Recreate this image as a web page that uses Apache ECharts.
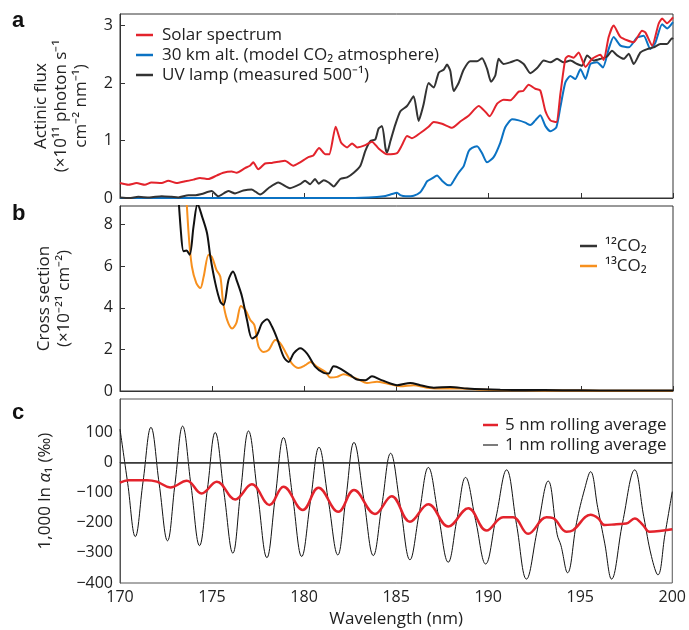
<!DOCTYPE html>
<html><head><meta charset="utf-8">
<script src="https://cdn.jsdelivr.net/npm/echarts@6/dist/echarts.min.js"></script>
<style>html,body{margin:0;padding:0;background:#fff}#c{width:689px;height:630px}</style>
</head><body><div id="c"></div>
<script>
// ---- Panel a: actinic flux (x1e11 photon s-1 cm-2 nm-1) ----
const solarX = [170,170.45,170.9,171.35,171.7,172.26,172.62,173.07,173.53,173.98,174.34,174.79,175.24,175.6,176.06,176.33,176.78,177.05,177.23,177.5,177.87,178.23,178.59,178.95,179.4,179.77,180.22,180.49,180.8,181.14,181.35,181.7,182.0,182.32,182.59,182.86,183.31,183.67,184.03,184.49,185.03,185.3,185.57,185.84,186.29,186.74,187.02,187.47,188.01,188.46,188.91,189.46,189.82,190.05,190.46,190.81,191.18,191.63,191.87,192.17,192.53,192.8,193.08,193.35,193.67,193.89,194.16,194.34,194.61,194.88,195.25,195.61,196.06,196.24,196.51,196.78,197.15,197.87,198.32,198.5,198.87,199.22,199.41,199.68,200];
const solarY = [0.26,0.23,0.26,0.23,0.27,0.26,0.30,0.26,0.29,0.32,0.35,0.33,0.39,0.44,0.46,0.44,0.52,0.56,0.62,0.50,0.60,0.61,0.63,0.65,0.56,0.62,0.71,0.74,0.87,0.76,0.76,1.24,0.96,0.88,0.95,0.88,0.92,0.98,0.86,0.76,0.78,0.92,1.08,1.04,1.13,1.24,1.32,1.29,1.22,1.33,1.43,1.60,1.50,1.42,1.64,1.71,1.70,1.85,1.86,1.97,1.90,1.87,1.51,1.35,1.32,1.81,2.42,2.47,2.44,2.53,2.28,2.42,2.49,2.40,2.80,3.00,2.80,2.71,2.91,2.88,2.65,3.03,3.12,3.04,3.14];
const alt30X = [170,175,180,182,183.5,184.3,184.67,185.03,185.2,185.5,185.93,186.29,186.5,186.66,186.93,187.2,187.47,187.74,187.92,188.1,188.37,188.64,188.91,189.1,189.37,189.64,189.91,190.27,190.63,190.9,191.27,191.63,191.99,192.26,192.53,192.8,193.08,193.35,193.67,193.89,194.16,194.43,194.7,194.98,195.25,195.52,195.88,196.2,196.51,196.78,197.15,197.6,198.05,198.41,198.77,199.04,199.41,199.68,200];
const alt30Y = [0,0,0,0,0.01,0.03,0.06,0.09,0.05,0.03,0.04,0.10,0.20,0.29,0.34,0.39,0.30,0.23,0.22,0.30,0.44,0.55,0.81,0.87,0.90,0.78,0.62,0.71,0.96,1.23,1.37,1.35,1.31,1.27,1.35,1.44,1.25,1.16,1.23,1.58,2.01,2.12,2.07,2.24,2.07,2.33,2.36,2.27,2.59,2.80,2.65,2.62,2.79,2.82,2.59,2.70,3.02,2.95,3.06];
const uvX = [170,170.5,170.99,171.6,172.26,172.8,173.16,173.71,174.1,174.43,174.97,175.33,175.88,176.24,176.69,177.14,177.6,178.05,178.59,179.22,179.77,180.04,180.31,180.58,180.78,181.05,181.32,181.59,181.95,182.32,182.68,183.04,183.31,183.58,183.85,184.03,184.22,184.4,184.49,184.67,184.94,185.21,185.57,185.93,186.2,186.47,186.74,187.02,187.29,187.56,187.74,187.92,188.1,188.37,188.64,189.0,189.37,189.64,189.91,190.13,190.36,190.54,190.81,191.18,191.54,191.9,192.26,192.63,192.99,193.35,193.71,194.07,194.43,194.8,195.07,195.34,195.7,196.06,196.42,196.69,196.97,197.33,197.6,197.87,198.23,198.6,198.95,199.32,199.68,199.95,200];
const uvY = [0.01,0.0,0.02,0.01,0.03,0.02,0.01,0.05,0.05,0.07,0.12,0.03,0.12,0.08,0.13,0.15,0.06,0.17,0.27,0.17,0.24,0.30,0.24,0.33,0.25,0.31,0.27,0.20,0.33,0.36,0.44,0.56,0.82,0.99,1.02,1.21,1.25,0.87,0.79,0.99,1.28,1.51,1.60,1.77,1.34,1.63,2.00,1.92,2.18,2.23,2.32,2.21,1.86,2.00,2.23,2.38,2.38,2.43,2.25,2.02,2.13,2.42,2.33,2.36,2.40,2.33,2.17,2.26,2.39,2.36,2.42,2.36,2.39,2.33,2.30,2.48,2.39,2.42,2.46,2.56,2.48,2.42,2.51,2.33,2.53,2.59,2.62,2.68,2.68,2.78,2.76];

// ---- Panel b: cross section (x1e-21 cm-2) ----
const co2_12X = [173.05,173.31,173.45,173.6,173.78,173.99,174.21,174.45,174.72,174.9,175.17,175.44,175.62,175.89,176.13,176.35,176.62,176.89,177.16,177.43,177.7,177.98,178.25,178.52,178.88,179.15,179.42,179.78,180.15,180.6,181.05,181.32,181.59,181.95,182.5,182.86,183.31,183.67,184.12,184.67,185.03,185.75,186.29,187.02,187.92,188.83,189.73,190.63,192,194,196,198,200];
const co2_12Y = [11,7.6,6.72,6.76,6.56,7.92,9.0,8.4,7.6,6.47,5.19,4.3,4.14,5.35,5.75,5.27,4.54,3.42,2.53,2.69,3.26,3.45,3.09,2.53,1.64,1.40,1.81,2.06,1.80,1.16,0.87,0.84,1.19,1.08,0.76,0.55,0.52,0.71,0.55,0.36,0.28,0.39,0.28,0.16,0.19,0.12,0.08,0.06,0.05,0.04,0.03,0.02,0.02];
const co2_13X = [173.5,173.72,173.9,174.14,174.36,174.54,174.81,174.99,175.23,175.44,175.59,175.81,176.08,176.31,176.56,176.8,177.07,177.29,177.52,177.79,178.06,178.43,178.7,178.97,179.33,179.69,180.05,180.33,180.69,181.14,181.41,181.77,182.13,182.5,182.95,183.4,183.94,184.49,185.21,185.93,186.66,187.56,188.46,189.73,191,193,195,197,200];
const co2_13Y = [11,7.6,5.99,5.19,4.95,5.51,6.56,6.44,5.83,5.51,4.3,3.42,3.01,3.26,4.09,3.9,3.42,3.17,2.13,1.88,1.97,2.45,2.29,1.88,1.32,1.11,1.24,1.40,1.16,0.92,0.65,0.68,0.81,0.71,0.55,0.39,0.44,0.36,0.23,0.28,0.16,0.12,0.12,0.06,0.04,0.03,0.02,0.01,0.01];

// ---- Panel c: 1000 ln alpha (permil) ----
const avg5X = [170,170.47,171.46,172.0,172.73,173.63,174.43,175.26,176.26,177.16,178.12,178.88,179.93,180.78,181.86,182.71,183.85,184.76,185.75,186.75,187.83,188.92,189.91,190.81,191.36,192.17,193.17,193.53,194.25,194.61,195.56,195.97,196.33,196.96,197.5,197.96,198.41,198.77,200];
const avg5Y = [-67,-59,-59,-64,-83,-61,-103,-64,-123,-73,-141,-81,-158,-84,-164,-92,-171,-112,-197,-139,-213,-152,-226,-182,-182,-237,-182,-185,-230,-225,-174,-185,-208,-205,-203,-186,-208,-230,-222];
const avg1X = [170,170.42,170.83,171.25,171.68,172.13,172.58,172.99,173.4,173.86,174.32,174.75,175.17,175.65,176.13,176.55,176.98,177.48,177.98,178.43,178.88,179.38,179.87,180.34,180.81,181.32,181.83,182.27,182.71,183.24,183.76,184.23,184.7,185.23,185.75,186.25,186.75,187.29,187.83,188.3,188.77,189.32,189.86,190.43,191.0,191.54,192.08,192.67,193.26,193.75,193.95,194.31,194.8,195.25,195.56,195.95,196.33,196.7,197.3,197.96,198.45,198.87,199.22,199.6,200];
const avg1Y = [110,-70,-246,-65,116,-72,-260,-70,120,-78,-276,-88,99,-101,-301,-98,104,-106,-316,-117,82,-115,-312,-131,50,-128,-307,-120,66,-121,-309,-140,30,-146,-323,-170,-17,-174,-331,-190,-50,-193,-337,-181,-25,-206,-387,-224,-62,-240,-275,-366,-200,-86,-31,-150,-268,-387,-200,-25,-180,-312,-373,-240,-97];

const wlTicks = [170,175,180,185,190,195,200];

const pair = (xs, ys) => xs.map((x, i) => [x, ys[i]]);
const FONT = '"Open Sans"';
const TXT = '#222';
const fmtNum = v => (v > 150 ? '' : (v < 0 ? '\u2212' + Math.abs(v) : String(v)));

const chart = echarts.init(document.getElementById('c'), null, {renderer: 'canvas'});

const grids = [
  {left: 120, right: 16, top: 14, height: 184, show: true, borderColor: '#333', borderWidth: 1},
  {left: 120, right: 16, top: 206, height: 185, show: true, borderColor: '#333', borderWidth: 1},
  {left: 120, right: 16, top: 399, height: 184, show: true, borderColor: '#555', borderWidth: 1}
];

function xAx(i, labels, ticks) {
  return {
    type: 'value', gridIndex: i, min: wlTicks[0], max: wlTicks[wlTicks.length - 1], interval: 5,
    axisLine: {show: true, lineStyle: {color: i === 2 ? '#555' : '#333', width: 1}},
    axisTick: {show: ticks, inside: true, length: 5, lineStyle: {color: '#333'}},
    axisLabel: {show: labels, color: TXT, fontFamily: FONT, fontSize: 16, margin: 6},
    splitLine: {show: false},
    name: labels ? 'Wavelength (nm)' : '', nameLocation: 'middle', nameGap: 28,
    nameTextStyle: {color: TXT, fontFamily: FONT, fontSize: 17}
  };
}
function yAx(i, min, max, interval, name, gap, ticks) {
  return {
    type: 'value', gridIndex: i, min: min, max: max, interval: interval,
    axisLine: {show: true, lineStyle: {color: i === 2 ? '#555' : '#333', width: 1}},
    axisTick: {show: ticks, inside: true, length: 5, lineStyle: {color: '#333'}},
    axisLabel: {color: TXT, fontFamily: FONT, fontSize: 16, margin: 7, showMaxLabel: false, formatter: fmtNum},
    splitLine: {show: false},
    name: name, nameLocation: 'middle', nameGap: gap,
    nameTextStyle: {color: TXT, fontFamily: FONT, fontSize: 17, lineHeight: 20,
      rich: {i: {fontStyle: 'italic', fontFamily: FONT, fontSize: 17, color: TXT}}}
  };
}
const legText = {color: TXT, fontFamily: FONT, fontSize: 17, lineHeight: 20};

const option = {
  animation: false,
  backgroundColor: '#fff',
  grid: grids,
  xAxis: [xAx(0, false, true), xAx(1, false, true), xAx(2, true, false)],
  yAxis: [
    yAx(0, 0, 3.2, 1, 'Actinic flux\n(×10¹¹ photon s⁻¹\ncm⁻² nm⁻¹)', 29, true),
    yAx(1, 0, 8.9, 2, 'Cross section\n(×10⁻²¹ cm⁻²)', 46, true),
    yAx(2, -400, 210, 100, '1,000 ln {i|α}₁ (‰)', 65, false)
  ],
  legend: [
    {left: 131, top: 20, orient: 'vertical', icon: 'rect', itemWidth: 17, itemHeight: 2.5, itemGap: 0,
     data: ['Solar spectrum', '30 km alt. (model CO₂ atmosphere)', 'UV lamp (measured 500⁻¹)'],
     textStyle: Object.assign({padding: [0, 0, 0, 4]}, legText), selectedMode: false},
    {left: 575, top: 231, orient: 'vertical', icon: 'rect', itemWidth: 17, itemHeight: 2.5, itemGap: 0,
     data: ['¹²CO₂', '¹³CO₂'],
     textStyle: Object.assign({padding: [0, 0, 0, 3]}, legText), selectedMode: false},
    {left: 478, top: 410, orient: 'vertical', itemWidth: 15, itemHeight: 10, itemGap: 0,
     data: [{name: '5 nm rolling average', icon: 'path://M0,0H30V5H0Z'},
            {name: '1 nm rolling average', icon: 'path://M0,0H30V2.2H0Z'}],
     textStyle: Object.assign({padding: [0, 0, 0, 2]}, legText), selectedMode: false}
  ],
  graphic: [
    {type: 'text', left: 12, top: 10, style: {text: 'a', font: 'bold 22px "Liberation Sans", Arial', fill: '#111'}},
    {type: 'text', left: 12, top: 203, style: {text: 'b', font: 'bold 22px "Liberation Sans", Arial', fill: '#111'}},
    {type: 'text', left: 12, top: 402, style: {text: 'c', font: 'bold 22px "Liberation Sans", Arial', fill: '#111'}}
  ],
  series: [
    {name: '30 km alt. (model CO₂ atmosphere)', type: 'line', xAxisIndex: 0, yAxisIndex: 0, data: pair(alt30X, alt30Y),
     showSymbol: false, symbol: 'none', smooth: 0.2, lineStyle: {color: '#0b72c3', width: 2}, itemStyle: {color: '#0b72c3'}},
    {name: 'UV lamp (measured 500⁻¹)', type: 'line', xAxisIndex: 0, yAxisIndex: 0, data: pair(uvX, uvY),
     showSymbol: false, symbol: 'none', smooth: 0.2, lineStyle: {color: '#333333', width: 2}, itemStyle: {color: '#333333'}},
    {name: 'Solar spectrum', type: 'line', xAxisIndex: 0, yAxisIndex: 0, data: pair(solarX, solarY),
     showSymbol: false, symbol: 'none', smooth: 0.2, lineStyle: {color: '#e3232c', width: 2}, itemStyle: {color: '#e3232c'}},
    {name: '¹³CO₂', type: 'line', xAxisIndex: 1, yAxisIndex: 1, data: pair(co2_13X, co2_13Y),
     showSymbol: false, symbol: 'none', smooth: 0.3, lineStyle: {color: '#f7901e', width: 2}, itemStyle: {color: '#f7901e'}},
    {name: '¹²CO₂', type: 'line', xAxisIndex: 1, yAxisIndex: 1, data: pair(co2_12X, co2_12Y),
     showSymbol: false, symbol: 'none', smooth: 0.3, lineStyle: {color: '#111111', width: 2}, itemStyle: {color: '#333333'}},
    {name: '1 nm rolling average', type: 'line', xAxisIndex: 2, yAxisIndex: 2, data: pair(avg1X, avg1Y),
     showSymbol: false, symbol: 'none', smooth: 0.4, lineStyle: {color: '#111111', width: 1}, itemStyle: {color: '#111111'},
     markLine: {silent: true, symbol: 'none', label: {show: false}, animation: false,
       lineStyle: {color: '#333', width: 1.5, type: 'solid'}, data: [{yAxis: 0}]}},
    {name: '5 nm rolling average', type: 'line', xAxisIndex: 2, yAxisIndex: 2, data: pair(avg5X, avg5Y),
     showSymbol: false, symbol: 'none', smooth: 0.4, lineStyle: {color: '#e3232c', width: 2.5}, itemStyle: {color: '#e3232c'}}
  ]
};
chart.setOption(option);
</script></body></html>
